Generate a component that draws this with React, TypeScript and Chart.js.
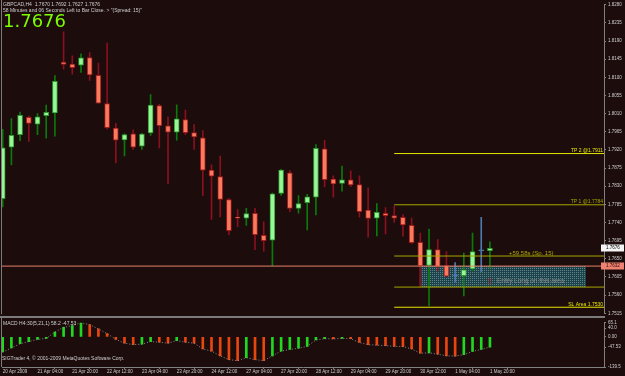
import React, { useEffect, useRef } from 'react';
import { Chart, registerables } from 'chart.js';

Chart.register(...registerables);

// ---------------- data ----------------
const opens = [
  1.7799, 1.7927, 1.7958, 1.8001, 1.7984, 1.8005, 1.8012, 1.8138, 1.8133, 1.8130,
  1.8149, 1.8105, 1.8035, 1.7974, 1.7945, 1.7960, 1.7929, 1.7962, 1.8030, 1.7980,
  1.7964, 1.7995, 1.7963, 1.7950, 1.7870, 1.7854, 1.7797, 1.7752, 1.7751, 1.7763,
  1.7708, 1.7696, 1.7812, 1.7863, 1.7775, 1.7789, 1.7803, 1.7923, 1.7848, 1.7837,
  1.7846, 1.7834, 1.7771, 1.7751, 1.7763, 1.7757, 1.7753, 1.7733, 1.7691, 1.7634,
  1.7673, 1.7633, 1.7608, 1.7608, 1.7625, 1.7670, 1.7670,
];
const highs = [
  1.7971, 1.7998, 1.8014, 1.8004, 1.8010, 1.8031, 1.8104, 1.8213, 1.8153, 1.8158,
  1.8161, 1.8135, 1.8185, 1.7986, 1.7960, 1.7970, 1.7961, 1.8057, 1.8033, 1.8002,
  1.8032, 1.8019, 1.7983, 1.7968, 1.7883, 1.7905, 1.7800, 1.7772, 1.7775, 1.7775,
  1.7742, 1.7813, 1.7872, 1.7869, 1.7807, 1.7810, 1.7933, 1.7944, 1.7856, 1.7880,
  1.7868, 1.7856, 1.7826, 1.7787, 1.7777, 1.7781, 1.7760, 1.7751, 1.7714, 1.7724,
  1.7698, 1.7668, 1.7641, 1.7664, 1.7714, 1.7753, 1.7692,
];
const lows = [
  1.7779, 1.7883, 1.7943, 1.7941, 1.7958, 1.7949, 1.7954, 1.8120, 1.8108, 1.8112,
  1.8092, 1.8035, 1.7972, 1.7888, 1.7905, 1.7921, 1.7921, 1.7956, 1.7925, 1.7836,
  1.7944, 1.7958, 1.7921, 1.7807, 1.7748, 1.7754, 1.7710, 1.7730, 1.7733, 1.7673,
  1.7669, 1.7633, 1.7807, 1.7767, 1.7763, 1.7722, 1.7759, 1.7828, 1.7803, 1.7818,
  1.7829, 1.7753, 1.7704, 1.7707, 1.7712, 1.7740, 1.7706, 1.7688, 1.7586, 1.7534,
  1.7620, 1.7606, 1.7592, 1.7558, 1.7620, 1.7618, 1.7627,
];
const closes = [
  1.7925, 1.7956, 1.8006, 1.7986, 1.8002, 1.8013, 1.8090, 1.8132, 1.8124, 1.8148,
  1.8106, 1.8036, 1.7975, 1.7944, 1.7958, 1.7927, 1.7959, 1.8031, 1.7980, 1.7964,
  1.7997, 1.7963, 1.7952, 1.7870, 1.7855, 1.7797, 1.7720, 1.7751, 1.7762, 1.7710,
  1.7695, 1.7811, 1.7870, 1.7775, 1.7787, 1.7804, 1.7924, 1.7846, 1.7836, 1.7846,
  1.7833, 1.7767, 1.7750, 1.7765, 1.7757, 1.7751, 1.7734, 1.7690, 1.7633, 1.7673,
  1.7631, 1.7607, 1.7608, 1.7623, 1.7668, 1.7670, 1.7676,
];
const macdValues = [
  -70.4, -51.5, -32.1, -22.0, -11.9, -7.5, 22.0, 44.0, 51.5, 65.1,
  55.9, 36.5, 14.5, -11.9, -29.5, -36.5, -33.9, -22.0, -25.1, -29.5,
  -17.6, -25.1, -29.5, -55.9, -66.0, -88.0, -105.6, -110.0, -96.8, -105.6,
  -110.0, -88.0, -66.0, -58.5, -52.8, -44.0, -14.5, -8.8, -9.5, -7.5,
  -8.8, -26.4, -36.5, -38.3, -40.9, -44.0, -45.3, -55.9, -76.0, -74.0,
  -80.5, -88.0, -89.0, -82.3, -67.3, -58.5, -47.5,
];
const priceTicks = [
  1.7515, 1.7560, 1.7605, 1.7650, 1.7695, 1.7740, 1.7785, 1.7830, 1.7875,
  1.7920, 1.7965, 1.8010, 1.8055, 1.8100, 1.8145, 1.8190, 1.8235, 1.8280,
];
const priceMin = 1.7515;
const priceMax = 1.8280;
const macdMin = -139.5;
const macdMax = 65.1;
const macdTicks = [65.1, 40.0, 0, -47.53, -139.5];
const macdTickLabels = ['65.1', '40.0', '0.00', '-47.53', '-139.5'];
const dateTickIdx = [0, 4, 8, 12, 16, 20, 24, 28, 32, 36, 40, 44, 48, 52, 56];
const dateLabels = [
  '20 Apr 2009', '21 Apr 04:00', '21 Apr 20:00', '22 Apr 12:00', '23 Apr 04:00',
  '23 Apr 20:00', '24 Apr 12:00', '27 Apr 04:00', '27 Apr 20:00', '28 Apr 12:00',
  '29 Apr 04:00', '29 Apr 20:00', '30 Apr 12:00', '1 May 04:00', '1 May 20:00',
];
const levelPrices = [1.7911, 1.7784, 1.7657, 1.7580, 1.7530];
const levelLabels = ['TP 2 @1.7911', 'TP 1 @1.7784', '', '', 'SL Area 1.7530'];
const levelStartIdx = 45;
const zoneTop = 1.7632;
const zoneBottom = 1.7580;
const zoneStartIdx = 48;
const zoneEndIdx = 67.05;
const markLinePrice = 1.7632;
const bidPrice = 1.7676;
const xMin = -0.08;
const xMax = 69.11;

const symbolHeader = 'GBPCAD,H4  1.7670 1.7692 1.7627 1.7676';
const timerHeader = '58 Minutes and 06 Seconds Left to Bar Close. > "(Spread: 15)"';
const bigPrice = '1.7676';
const spreadNote = '+59.58s (Sp. 15)';
const entryNote = 'Entry Long on this area';
const macdHeader = 'MACD H4:30(5,21,1) 58.2 -47.53';
const copyright = 'SIGTrader 4, \u00a9 2001-2009 MetaQuotes Software Corp.';

// ---------------- styles ----------------
const BG = '#1c0c0c';
const AXIS = '#808080';
const TEXT = '#cfcfcf';
const FONT = '"Liberation Sans", Arial, sans-serif';
const levelColors = ['#e6e600', '#a6a600', '#a6a600', '#a6a600', '#e6e600'];

const isDoji = (i: number) => closes[i] === opens[i];
const isUp = (i: number) => closes[i] > opens[i];
const bodyFill = opens.map((_, i) => (isDoji(i) ? '#4a7ab0' : isUp(i) ? '#98f598' : '#fa7a5e'));
const bodyBorder = opens.map((_, i) => (isDoji(i) ? '#4a7ab0' : isUp(i) ? '#2f9a2f' : '#a01c1c'));
const wickColor = opens.map((_, i) => (isDoji(i) ? '#4a7ab0' : isUp(i) ? '#0a7a0a' : '#8a1020'));
const macdColor = macdValues.map((v, i) => (i === 0 || v > macdValues[i - 1] ? '#1fd81f' : '#e8460f'));

export default function App() {
  const mainRef = useRef<HTMLCanvasElement>(null);
  const macdRef = useRef<HTMLCanvasElement>(null);

  useEffect(() => {
    document.body.style.margin = '0';
    document.body.style.background = BG;
    const c1el = mainRef.current!;
    const c2el = macdRef.current!;

    // dotted teal pattern for the entry zone
    const pc = document.createElement('canvas');
    pc.width = 2;
    pc.height = 2;
    const pctx = pc.getContext('2d')!;
    pctx.fillStyle = '#1c424c';
    pctx.fillRect(0, 0, 2, 2);
    pctx.fillStyle = '#5e8488';
    pctx.fillRect(0, 0, 1, 1);
    const pattern = c1el.getContext('2d')!.createPattern(pc, 'repeat');

    const idx = opens.map((_, i) => i);

    const mainOverlay = {
      id: 'mainOverlay',
      afterDraw(chart: any) {
        const { ctx, chartArea: a, scales } = chart;
        const ys = scales.y;
        ctx.save();
        ctx.fillStyle = '#7c7c7c';
        ctx.fillRect(1, 0, 1, a.bottom + 1);
        ctx.fillRect(0, 316, a.right + 1, 2);

        // level labels
        ctx.textBaseline = 'alphabetic';
        ctx.textAlign = 'right';
        ctx.font = `5px ${FONT}`;
        levelLabels.forEach((t, i) => {
          if (!t) return;
          ctx.fillStyle = levelColors[i];
          ctx.fillText(t, a.right - 1, ys.getPixelForValue(levelPrices[i]) - 1.5);
        });
        ctx.textAlign = 'left';
        ctx.font = `6px ${FONT}`;
        ctx.fillStyle = '#b0a800';
        ctx.fillText(spreadNote, 509, ys.getPixelForValue(levelPrices[2]) - 1.5);

        const yMid = (ys.getPixelForValue(zoneTop) + ys.getPixelForValue(zoneBottom)) / 2 + 5;
        ctx.textBaseline = 'middle';
        ctx.font = '8px "DejaVu Sans"';
        ctx.fillStyle = '#c81e1e';
        ctx.fillText('\u21e7', 486, yMid);
        ctx.font = `6.5px ${FONT}`;
        ctx.fillStyle = '#8a8a8a';
        ctx.fillText(entryNote, 497, yMid);

        // headers
        ctx.fillStyle = TEXT;
        ctx.font = `5px ${FONT}`;
        ctx.fillText(symbolHeader, 3, 5);
        ctx.fillText(timerHeader, 3, 11);
        ctx.textBaseline = 'alphabetic';
        ctx.font = '18px "DejaVu Sans"';
        ctx.fillStyle = '#7cfc00';
        ctx.fillText(bigPrice, 3, 27);

        // value boxes on the price axis
        const box = (v: number, fill: string, txt: string) => {
          const y = ys.getPixelForValue(v);
          ctx.fillStyle = fill;
          ctx.fillRect(a.right - 3, Math.round(y) - 3.5, 23, 7);
          ctx.fillStyle = txt;
          ctx.textBaseline = 'middle';
          ctx.textAlign = 'left';
          ctx.font = `4.5px ${FONT}`;
          ctx.fillText(v.toFixed(4), a.right + 2, Math.round(y));
        };
        box(bidPrice, '#f4f4f4', '#000000');
        box(markLinePrice, '#f08070', '#1c0c0c');
        ctx.restore();
      },
    };

    const macdOverlay = {
      id: 'macdOverlay',
      afterDraw(chart: any) {
        const { ctx, chartArea: a } = chart;
        ctx.save();
        ctx.fillStyle = '#7c7c7c';
        ctx.fillRect(1, 0, 1, a.bottom);
        ctx.fillStyle = TEXT;
        ctx.font = `5px ${FONT}`;
        ctx.textBaseline = 'middle';
        ctx.textAlign = 'left';
        ctx.fillText(macdHeader, 3, 6);
        ctx.fillText(copyright, 2, 41);
        ctx.restore();
      },
    };

    const levelDatasets = levelPrices.map((p, i) => ({
      type: 'line',
      data: [
        { x: levelStartIdx, y: p },
        { x: xMax, y: p },
      ],
      borderColor: levelColors[i],
      borderWidth: 1,
      pointRadius: 0,
      order: -1,
    }));

    const c1 = new Chart(c1el, {
      type: 'bar',
      data: {
        datasets: [
          {
            type: 'line',
            data: [
              { x: zoneStartIdx, y: zoneTop },
              { x: zoneEndIdx, y: zoneTop },
            ],
            fill: { value: zoneBottom },
            backgroundColor: pattern,
            borderWidth: 0,
            borderColor: 'rgba(0,0,0,0)',
            pointRadius: 0,
            order: 5,
          },
          {
            type: 'line',
            data: [
              { x: zoneStartIdx, y: zoneTop },
              { x: zoneStartIdx, y: zoneBottom },
            ],
            borderColor: '#9a1a1a',
            borderWidth: 1,
            pointRadius: 0,
            order: 4,
          },
          {
            type: 'bar',
            data: idx.map((i) => ({ x: i, y: [lows[i], highs[i]] })),
            backgroundColor: wickColor,
            borderWidth: 0,
            barThickness: 1,
            grouped: false,
            order: 1,
          },
          {
            type: 'bar',
            data: idx.map((i) => ({ x: i, y: [opens[i], closes[i]] })),
            backgroundColor: bodyFill,
            borderColor: bodyBorder,
            borderWidth: 1,
            borderSkipped: false,
            barThickness: 5,
            minBarLength: 1,
            grouped: false,
            order: 0,
          },
          ...levelDatasets,
          {
            type: 'line',
            data: [
              { x: xMin, y: markLinePrice },
              { x: xMax, y: markLinePrice },
            ],
            borderColor: '#e8806a',
            borderWidth: 1,
            pointRadius: 0,
            order: -1,
          },
        ] as any,
      },
      options: {
        responsive: false,
        animation: false,
        devicePixelRatio: 1,
        events: [],
        layout: { padding: { left: 2, top: 1, right: 0, bottom: 3 } },
        plugins: { legend: { display: false }, tooltip: { enabled: false } },
        scales: {
          x: { type: 'linear', display: false, min: xMin, max: xMax, offset: false },
          y: {
            position: 'right',
            min: priceMin,
            max: priceMax,
            afterFit: (s: any) => {
              s.width = 21;
            },
            afterBuildTicks: (s: any) => {
              s.ticks = priceTicks.map((v) => ({ value: v }));
            },
            ticks: {
              autoSkip: false,
              color: TEXT,
              font: { size: 4.5, family: FONT },
              padding: 2,
              callback: (v: any) => Number(v).toFixed(4),
            },
            grid: { drawOnChartArea: false, drawTicks: true, tickLength: 2, color: AXIS },
            border: { display: true, color: AXIS },
          },
        },
      } as any,
      plugins: [mainOverlay],
    });

    const c2 = new Chart(c2el, {
      type: 'bar',
      data: {
        datasets: [
          {
            type: 'bar',
            data: idx.map((i) => ({ x: i, y: macdValues[i] })),
            backgroundColor: macdColor,
            borderWidth: 0,
            barThickness: 2,
            grouped: false,
            order: 1,
          },
          {
            type: 'line',
            data: idx.map((i) => ({ x: i, y: macdValues[i] })),
            borderColor: '#8c8c8c',
            borderWidth: 1,
            borderDash: [1, 2],
            pointRadius: 0,
            tension: 0,
            order: 0,
          },
        ] as any,
      },
      options: {
        responsive: false,
        animation: false,
        devicePixelRatio: 1,
        events: [],
        layout: { padding: { left: 2, top: 4, right: 0, bottom: 0 } },
        plugins: { legend: { display: false }, tooltip: { enabled: false } },
        scales: {
          x: {
            type: 'linear',
            min: xMin,
            max: xMax,
            offset: false,
            afterFit: (s: any) => {
              s.height = 9;
            },
            afterBuildTicks: (s: any) => {
              s.ticks = dateTickIdx.map((v) => ({ value: v }));
            },
            ticks: {
              autoSkip: false,
              maxRotation: 0,
              minRotation: 0,
              align: 'start',
              padding: 0,
              color: TEXT,
              font: { size: 4.5, family: FONT },
              callback: (_v: any, i: number) => dateLabels[i],
            },
            grid: { drawOnChartArea: false, tickLength: 2, color: AXIS },
            border: { display: true, color: AXIS },
          },
          y: {
            position: 'right',
            min: macdMin,
            max: macdMax,
            afterFit: (s: any) => {
              s.width = 21;
            },
            afterBuildTicks: (s: any) => {
              s.ticks = macdTicks.map((v) => ({ value: v }));
            },
            ticks: {
              autoSkip: false,
              color: TEXT,
              font: { size: 4.5, family: FONT },
              padding: 2,
              callback: (_v: any, i: number) => macdTickLabels[i],
            },
            grid: { drawOnChartArea: false, tickLength: 2, color: AXIS },
            border: { display: true, color: AXIS },
          },
        },
      } as any,
      plugins: [macdOverlay],
    });

    return () => {
      c1.destroy();
      c2.destroy();
    };
  }, []);

  return (
    <div style={{ position: 'relative', width: 625, height: 376, background: BG, overflow: 'hidden' }}>
      <canvas
        ref={mainRef}
        width={625}
        height={318}
        style={{ position: 'absolute', left: 0, top: 0, width: 625, height: 318 }}
      />
      <canvas
        ref={macdRef}
        width={625}
        height={58}
        style={{ position: 'absolute', left: 0, top: 318, width: 625, height: 58 }}
      />
    </div>
  );
}
